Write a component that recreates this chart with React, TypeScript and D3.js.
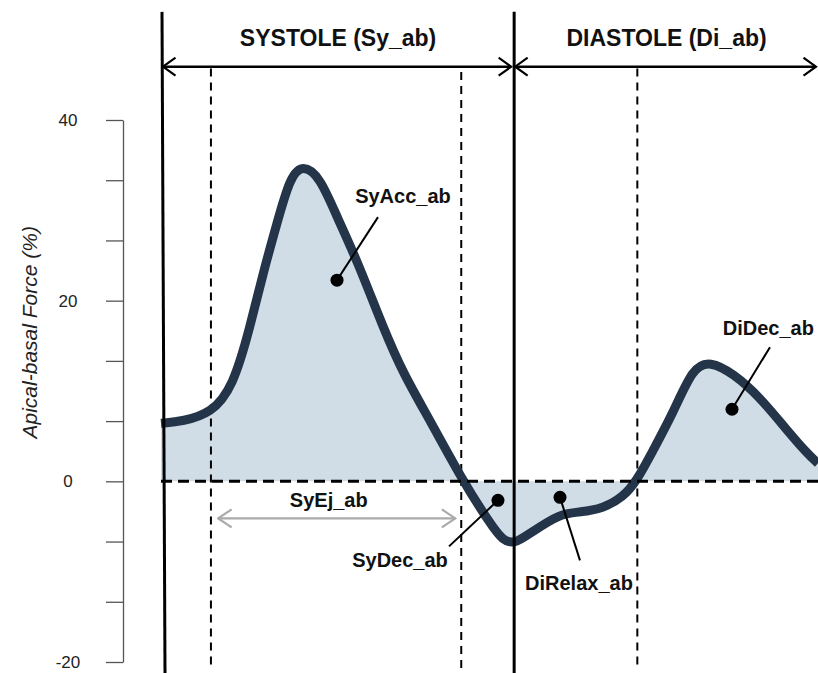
import React, { useEffect, useRef } from 'react';
import * as d3 from 'd3';

// curve: x = % of the cardiac cycle, y = force (%)
const cycleX = [0, 3.35, 7.61, 10.96, 13.55, 15.53, 17.66, 19.63, 21.61, 24.2, 26.79, 29.83, 33.79, 36.83, 40.94, 45.97, 50.08, 52.05, 53.88, 56.16, 60.73, 63.77, 67.28, 70.32, 72.45, 74.89, 77.93, 80.97, 83.56, 87.06, 91.17, 95.28, 98.33, 100];
const forceY = [6.43, 6.65, 7.53, 10.42, 17.06, 23.05, 28.59, 33.68, 35.1, 33.68, 29.25, 24.49, 17.06, 11.97, 6.76, 0, -4.65, -6.6, -6.9, -5.76, -3.55, -3.43, -2.99, -1.77, 0.1, 3.43, 7.53, 12.63, 13.3, 11.97, 9.31, 5.65, 3.1, 1.99];

const yTicks = [-20, -40 / 3, -20 / 3, 0, 20 / 3, 40 / 3, 20, 80 / 3, 100 / 3, 40];
const yLabelTicks = [-20, 0, 20, 40];

// event timings (%)
const solidEvents = [0, 53.6];
const dashedEvents = [7.6, 45.7, 72.5];
const phases = [
  { label: 'SYSTOLE (Sy_ab)', from: 0, to: 53.6 },
  { label: 'DIASTOLE (Di_ab)', from: 53.6, to: 100 },
];

const callouts = [
  { label: 'SyAcc_ab', dot: [26.79, 22.27], end: [33.03, 29.25], text: [36.83, 31.6], anchor: 'middle' },
  { label: 'SyDec_ab', dot: [51.29, -2.1], end: [43.84, -7.2], text: [36.38, -8.75], anchor: 'middle' },
  { label: 'DiRelax_ab', dot: [60.73, -1.77], end: [63.77, -8.75], text: [63.62, -11.3], anchor: 'middle' },
  { label: 'DiDec_ab', dot: [86.91, 7.98], end: [92.69, 14.85], text: [85.5, 16.95], anchor: 'start' },
];

const ejection = { label: 'SyEj_ab', from: 8.7, to: 44.8, y: -4.1, textY: -2.1 };

const App: React.FC = () => {
  const svgRef = useRef<SVGSVGElement | null>(null);
  const width = 818;
  const height = 673;

  useEffect(() => {
    document.body.style.margin = '0';
    if (!svgRef.current) return;
    const svg = d3.select(svgRef.current);
    svg.selectAll('*').remove();

    const font = '"Liberation Sans", Arial, sans-serif';
    const x = d3.scaleLinear().domain([0, 100]).range([161, 818]);
    const y = d3.scaleLinear().domain([-20, 40]).range([662, 120]);
    const top = 51.97;
    const bottom = -21.3;
    const arrowY = 45.9;

    const defs = svg.append('defs');
    const mk = (id: string, color: string, w: number, h: number) => {
      defs.append('marker')
        .attr('id', id)
        .attr('markerUnits', 'userSpaceOnUse')
        .attr('viewBox', `0 0 ${w + 2} ${h + 2}`)
        .attr('markerWidth', w + 2)
        .attr('markerHeight', h + 2)
        .attr('refX', w + 0.5)
        .attr('refY', h / 2 + 1)
        .attr('orient', 'auto-start-reverse')
        .append('path')
        .attr('d', `M1,1 L${w + 0.5},${h / 2 + 1} L1,${h + 1}`)
        .attr('fill', 'none')
        .attr('stroke', color)
        .attr('stroke-width', 2.2);
    };
    mk('arrBlack', '#000', 13, 18);
    mk('arrGray', '#aaa', 14, 18);

    // area + curve (smoothed through the read points)
    const pts = cycleX.map((d, i) => [d, forceY[i]] as [number, number]);
    const curve = d3.curveBasis;
    const area = d3.area<[number, number]>()
      .x((d) => x(d[0]))
      .y0(y(0))
      .y1((d) => y(d[1]))
      .curve(curve);
    const line = d3.line<[number, number]>()
      .x((d) => x(d[0]))
      .y((d) => y(d[1]))
      .curve(curve);

    svg.append('path').datum(pts).attr('d', area).attr('fill', '#d0dde7');

    // dashed event lines
    dashedEvents.forEach((e, i) => {
      svg.append('line')
        .attr('x1', x(e)).attr('x2', x(e))
        .attr('y1', y(i === 1 ? 45.3 : 45.7)).attr('y2', y(bottom + 0.4))
        .attr('stroke', '#000').attr('stroke-width', 2)
        .attr('stroke-dasharray', '8 6');
    });

    svg.append('path').datum(pts).attr('d', line)
      .attr('fill', 'none').attr('stroke', '#24354a').attr('stroke-width', 9)
      .attr('stroke-linejoin', 'round');

    // zero line
    svg.append('line')
      .attr('x1', x(0)).attr('x2', x(100))
      .attr('y1', y(0)).attr('y2', y(0))
      .attr('stroke', '#000').attr('stroke-width', 3)
      .attr('stroke-dasharray', '11 6');

    // solid event lines
    solidEvents.forEach((e) => {
      svg.append('line')
        .attr('x1', x(e) + 1).attr('x2', x(e) + (e === 0 ? 4 : 1))
        .attr('y1', y(top)).attr('y2', y(bottom))
        .attr('stroke', '#000').attr('stroke-width', 3);
    });

    // phase arrows and labels
    phases.forEach((p) => {
      svg.append('line')
        .attr('x1', x(p.from) + 2).attr('x2', x(p.to) - 2)
        .attr('y1', y(arrowY)).attr('y2', y(arrowY))
        .attr('stroke', '#000').attr('stroke-width', 2.5)
        .attr('marker-start', 'url(#arrBlack)')
        .attr('marker-end', 'url(#arrBlack)');
      svg.append('text')
        .attr('x', (x(p.from) + x(p.to)) / 2 + 1)
        .attr('y', y(49.1))
        .attr('dy', '0.35em')
        .attr('text-anchor', 'middle')
        .attr('font-family', font).attr('font-weight', 'bold').attr('font-size', 23)
        .attr('fill', '#111')
        .text(p.label);
    });

    // ejection arrow
    svg.append('line')
      .attr('x1', x(ejection.from)).attr('x2', x(ejection.to))
      .attr('y1', y(ejection.y)).attr('y2', y(ejection.y))
      .attr('stroke', '#aaa').attr('stroke-width', 2.2)
      .attr('marker-start', 'url(#arrGray)')
      .attr('marker-end', 'url(#arrGray)');
    svg.append('text')
      .attr('x', x((ejection.from + ejection.to) / 2) - 8)
      .attr('y', y(ejection.textY))
      .attr('dy', '0.35em')
      .attr('text-anchor', 'middle')
      .attr('font-family', font).attr('font-weight', 'bold').attr('font-size', 20)
      .attr('fill', '#111')
      .text(ejection.label);

    // callouts
    callouts.forEach((c) => {
      svg.append('line')
        .attr('x1', x(c.dot[0])).attr('y1', y(c.dot[1]))
        .attr('x2', x(c.end[0])).attr('y2', y(c.end[1]))
        .attr('stroke', '#000').attr('stroke-width', 2);
      svg.append('circle')
        .attr('cx', x(c.dot[0])).attr('cy', y(c.dot[1]))
        .attr('r', 6.5).attr('fill', '#000');
      svg.append('text')
        .attr('x', x(c.text[0])).attr('y', y(c.text[1]))
        .attr('dy', '0.35em')
        .attr('text-anchor', c.anchor)
        .attr('font-family', font).attr('font-weight', 'bold').attr('font-size', 20)
        .attr('fill', '#111')
        .text(c.label);
    });

    // y axis
    const axis = svg.append('g').attr('transform', 'translate(123,0)');
    axis.call(d3.axisLeft(y).tickValues(yTicks).tickSize(17).tickSizeOuter(0).tickFormat(() => ''));
    axis.select('.domain').attr('stroke', '#555').attr('stroke-width', 1.3);
    axis.selectAll('.tick line').attr('stroke', '#555').attr('stroke-width', 1.3);
    axis.selectAll('.tick text').remove();

    yLabelTicks.forEach((t) => {
      svg.append('text')
        .attr('x', 68).attr('y', y(t))
        .attr('dy', '0.35em')
        .attr('text-anchor', 'middle')
        .attr('font-family', font).attr('font-size', 17)
        .attr('fill', '#222')
        .text(String(t));
    });

    svg.append('text')
      .attr('transform', `translate(30,${y(16.5)}) rotate(-90)`)
      .attr('dy', '0.35em')
      .attr('text-anchor', 'middle')
      .attr('font-family', font).attr('font-style', 'italic').attr('font-size', 21)
      .attr('fill', '#222')
      .text('Apical-basal Force (%)');
  }, []);

  return <svg ref={svgRef} width={width} height={height} style={{ display: 'block', background: '#fff' }} />;
};

export default App;
